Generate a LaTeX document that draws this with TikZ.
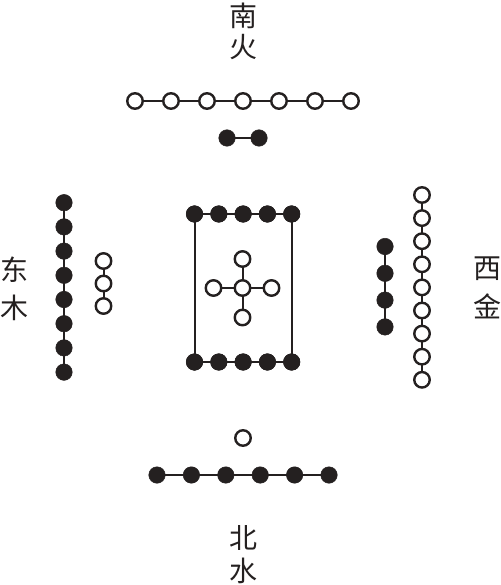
\documentclass[tikz,border=0pt]{standalone}
\usepackage{fontspec}
\newfontfamily\cjk{Noto Sans CJK SC}
\definecolor{ink}{RGB}{36,32,32}
\tikzset{
  opendot/.style={circle,draw=ink,line width=2.4pt,fill=white,minimum size=15.5pt,inner sep=0pt,outer sep=0pt},
  fulldot/.style={circle,fill=ink,draw=ink,line width=0.5pt,minimum size=16.5pt,inner sep=0pt,outer sep=0pt},
  link/.style={draw=ink,line width=2pt},
  label/.style={font=\cjk\fontsize{28}{28}\selectfont,text=ink,inner sep=0pt}
}
\begin{document}
\begin{tikzpicture}[x=1pt,y=-1pt]
\useasboundingbox (0,0) rectangle (500,585);
% labels
\node[label] (nan) at (243,16) {南};
\node[label] (huo) at (243,47) {火};
\node[label] (dong) at (14,270) {东};
\node[label] (mu) at (14,308) {木};
\node[label] (xi) at (487,268.5) {西};
\node[label] (jin) at (487,306) {金};
\node[label] (bei) at (243,538) {北};
\node[label] (shui) at (243,571) {水};
% south: 7 open
\foreach \i in {1,...,7} \node[opendot] (s\i) at ({135+36*(\i-1)},101) {};
\foreach \i [evaluate=\i as \j using int(\i+1)] in {1,...,6} \draw[link] (s\i) -- (s\j);
% south: 2 full
\node[fulldot] (t1) at (227,138) {};
\node[fulldot] (t2) at (259,138) {};
\draw[link] (t1.center) -- (t2.center);
% center box
\foreach \i in {1,...,5} {
  \node[fulldot] (a\i) at ({194.5+24.3*(\i-1)},214) {};
  \node[fulldot] (b\i) at ({194.5+24.3*(\i-1)},362) {};
}
\draw[link] (a1.center) rectangle (b5.center);
\foreach \i in {1,...,5} {
  \node[fulldot] at (a\i) {};
  \node[fulldot] at (b\i) {};
}
% center cross
\node[opendot] (c0) at (242.5,288) {};
\node[opendot] (cn) at (242.5,259) {};
\node[opendot] (cs) at (242.5,317.5) {};
\node[opendot] (cw) at (213.5,288) {};
\node[opendot] (ce) at (271.5,288) {};
\foreach \k in {cn,cs,cw,ce} \draw[link] (c0) -- (\k);
% east: 8 full
\foreach \i in {1,...,8} \node[fulldot] (e\i) at (64,{202.7+24.2*(\i-1)}) {};
\draw[link] (e1.center) -- (e8.center);
% east: 3 open
\foreach \i in {1,...,3} \node[opendot] (f\i) at (103.5,{261+22.5*(\i-1)}) {};
\draw[link] (f1) -- (f2);
\draw[link] (f2) -- (f3);
% west: 4 full
\foreach \i in {1,...,4} \node[fulldot] (w\i) at (385,{246.5+26.8*(\i-1)}) {};
\draw[link] (w1.center) -- (w4.center);
% west: 9 open
\foreach \i in {1,...,9} \node[opendot] (v\i) at (422,{195+23.1*(\i-1)}) {};
\foreach \i [evaluate=\i as \j using int(\i+1)] in {1,...,8} \draw[link] (v\i) -- (v\j);
% north: 1 open, 6 full
\node[opendot] (n0) at (243,438) {};
\foreach \i in {1,...,6} \node[fulldot] (n\i) at ({157+34.4*(\i-1)},475) {};
\draw[link] (n1.center) -- (n6.center);
\end{tikzpicture}
\end{document}
